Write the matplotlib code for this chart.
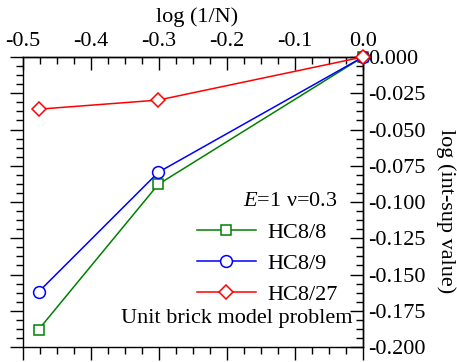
import matplotlib
matplotlib.use("Agg")
import matplotlib.pyplot as plt
from matplotlib.ticker import MultipleLocator, FormatStrFormatter

plt.rcParams['font.family'] = ['Liberation Serif', 'DejaVu Serif']
plt.rcParams['axes.unicode_minus'] = False
plt.rcParams['mathtext.fontset'] = 'custom'
plt.rcParams['mathtext.rm'] = 'Liberation Serif'
plt.rcParams['mathtext.it'] = 'Liberation Serif:italic'

# data
x_vals = [-0.4771, -0.3010, 0.0]
series_names = ["HC8/8", "HC8/9", "HC8/27"]
hc8_8 = [-0.188, -0.0878, 0.0]
hc8_9 = [-0.162, -0.0795, 0.0]
hc8_27 = [-0.036, -0.0297, 0.0]
colors = ["#008000", "#0000ff", "#ff0000"]
markers = ["s", "o", "D"]
msizes = [7.5, 8.5, 7.5]

FS = 16

fig = plt.figure(figsize=(4.57, 3.62), dpi=100)
ax = fig.add_axes([23/457, 1-347/362, 340/457, 290/362])
ax.set_xlim(-0.5, 0.0)
ax.set_ylim(-0.2, 0.0)

for ys, name, c, m, ms in zip([hc8_8, hc8_9, hc8_27], series_names, colors, markers, msizes):
    ax.plot(x_vals, ys, color=c, lw=1.1, marker=m, ms=ms, mfc='white', mec=c, mew=1.1,
            label=name, clip_on=False, zorder=5)

for sp in ax.spines.values():
    sp.set_linewidth(1.0)

ax.xaxis.set_major_locator(MultipleLocator(0.1))
ax.xaxis.set_minor_locator(MultipleLocator(0.025))
ax.yaxis.set_major_locator(MultipleLocator(0.025))
ax.yaxis.set_minor_locator(MultipleLocator(0.00625))
ax.tick_params(axis='both', which='both', direction='out', top=False, right=False,
               labelbottom=False, labelleft=False, width=1.0)
ax.tick_params(which='major', length=9.5)
ax.tick_params(which='minor', length=5)

secx = ax.secondary_xaxis('top')
secx.xaxis.set_major_locator(MultipleLocator(0.1))
secx.xaxis.set_minor_locator(MultipleLocator(0.025))
secx.xaxis.set_major_formatter(FormatStrFormatter('%.1f'))
secx.tick_params(axis='x', which='both', direction='in', labelsize=FS, pad=4, width=1.0)
secx.tick_params(which='major', length=9.5)
secx.tick_params(which='minor', length=5)
secx.spines['top'].set_linewidth(1.0)

secy = ax.secondary_yaxis('right')
secy.yaxis.set_major_locator(MultipleLocator(0.025))
secy.yaxis.set_minor_locator(MultipleLocator(0.00625))
secy.yaxis.set_major_formatter(FormatStrFormatter('%.3f'))
secy.tick_params(axis='y', which='both', direction='in', labelsize=FS, pad=4, width=1.0)
secy.tick_params(which='major', length=9.5)
secy.tick_params(which='minor', length=5)
secy.spines['right'].set_linewidth(1.0)

fig.text(197.5/457, 1-17.5/362, 'log (1/N)', fontsize=FS, ha='center', va='center')
fig.text(446/457, 1-211/362, 'log (int-sup value)', fontsize=FS, ha='center', va='center',
         rotation=270)

leg = ax.legend(loc='lower right', bbox_to_anchor=(0.925, 0.145), frameon=False,
                fontsize=FS, title='$E$=1 ν=0.3', title_fontsize=FS, numpoints=1,
                handlelength=2.66, handletextpad=0.5, labelspacing=0.48,
                alignment='right', borderpad=0.0, borderaxespad=0.0)

ax.text(0.968, 0.097, 'Unit brick model problem', transform=ax.transAxes,
        ha='right', va='center', fontsize=FS)

fig.savefig('out.png', dpi=100)
